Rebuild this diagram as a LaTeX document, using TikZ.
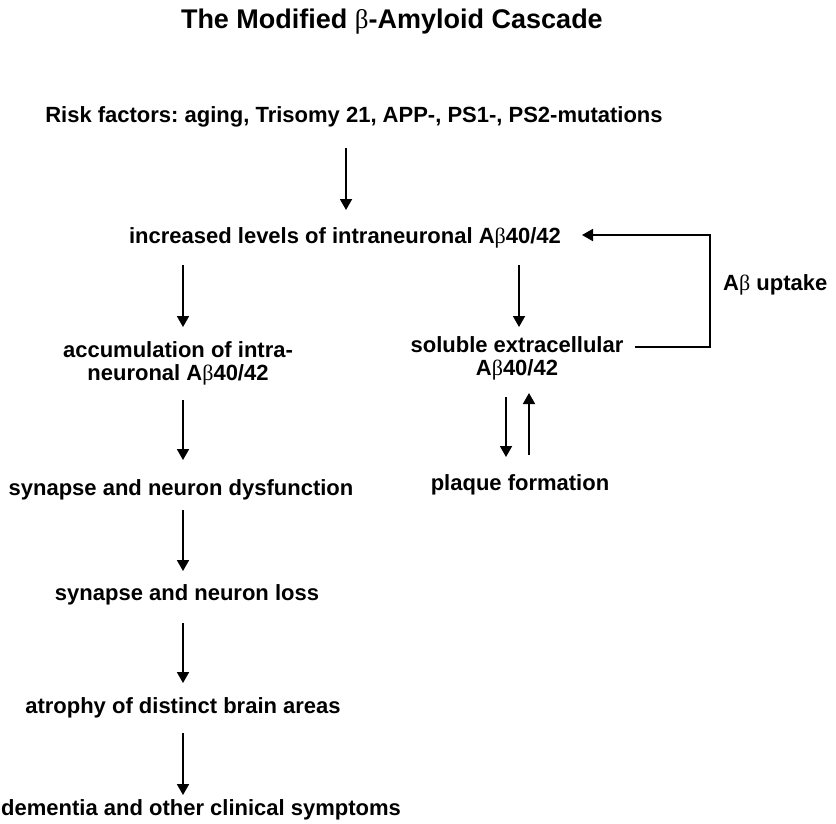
\documentclass[tikz,border=0pt]{standalone}
\usepackage{fontspec}
\setmainfont{Liberation Sans}
\newfontfamily\grk{Liberation Serif}
\usetikzlibrary{arrows.meta,calc}
\newcommand{\bet}{{\grk\mdseries β}}
\frenchspacing
\tikzset{
  lbl/.style={inner sep=0pt, anchor=base, font=\fontsize{22}{23}\selectfont\bfseries\frenchspacing, align=center},
  ttl/.style={inner sep=0pt, anchor=base east, font=\fontsize{27}{29}\selectfont\bfseries},
  arr/.style={line width=1.8pt, -{Triangle[length=11pt,width=12pt]}},
  ln/.style={line width=1.8pt}
}
\begin{document}
\begin{tikzpicture}[x=1pt,y=-1pt]
\useasboundingbox (0,0) rectangle (836,823);
% column coordinates
\coordinate (cA) at (346,0);
\coordinate (cL) at (183,0);
\coordinate (cR) at (519,0);
\coordinate (cD) at (506,0);
\coordinate (cU) at (529,0);
\coordinate (cF) at (710,0);
% nodes
\node[ttl] (title) at (603,28) {The Modified \bet-Amyloid Cascade};
\node[lbl] (risk) at (354,122) {Risk factors: aging, Trisomy 21, APP-, PS1-, PS2-mutations};
\node[lbl] (inc) at (345,243) {increased levels of intraneuronal A\bet40/42};
\node[lbl] (acc) at (178,380) {accumulation of intra-\\neuronal A\bet40/42};
\node[lbl] (sol) at (517,375) {soluble extracellular\\A\bet40/42};
\node[lbl] (dys) at (181,495) {synapse and neuron dysfunction};
\node[lbl] (plq) at (520,490) {plaque formation};
\node[lbl] (loss) at (187,600) {synapse and neuron loss};
\node[lbl] (atro) at (183,713) {atrophy of distinct brain areas};
\node[lbl, anchor=base west] (dem) at (1,815) {dementia and other clinical symptoms};
\node[lbl, anchor=base west] (upt) at (723,290) {A\bet{} uptake};
% arrows
\draw[arr] ($(risk.base -| cA)+(0,26)$) -- ($(inc.base -| cA)+(0,-33)$);
\draw[arr] ($(inc.base -| cL)+(0,22)$) -- ($(acc.base -| cL)+(0,-53)$);
\draw[arr] ($(inc.base -| cR)+(0,22)$) -- ($(sol.base -| cR)+(0,-48)$);
\draw[arr] ($(acc.base -| cL)+(0,20)$) -- ($(dys.base -| cL)+(0,-35)$);
\draw[arr] ($(dys.base -| cL)+(0,15)$) -- ($(loss.base -| cL)+(0,-29)$);
\draw[arr] ($(loss.base -| cL)+(0,23)$) -- ($(atro.base -| cL)+(0,-30)$);
\draw[arr] ($(atro.base -| cL)+(0,20)$) -- ($(dem.base -| cL)+(0,-20)$);
\draw[arr] ($(sol.base -| cD)+(0,22)$) -- ($(plq.base -| cD)+(0,-33)$);
\draw[arr] ($(plq.base -| cU)+(0,-35)$) -- ($(sol.base -| cU)+(0,18)$);
% feedback loop
\draw[arr] ($(sol.base)+(118,-28)$) -- ($(sol.base -| cF)+(0,-28)$) -- ($(inc.base -| cF)+(0,-8)$) -- ($(inc.base)+(237,-8)$);
\end{tikzpicture}
\end{document}
